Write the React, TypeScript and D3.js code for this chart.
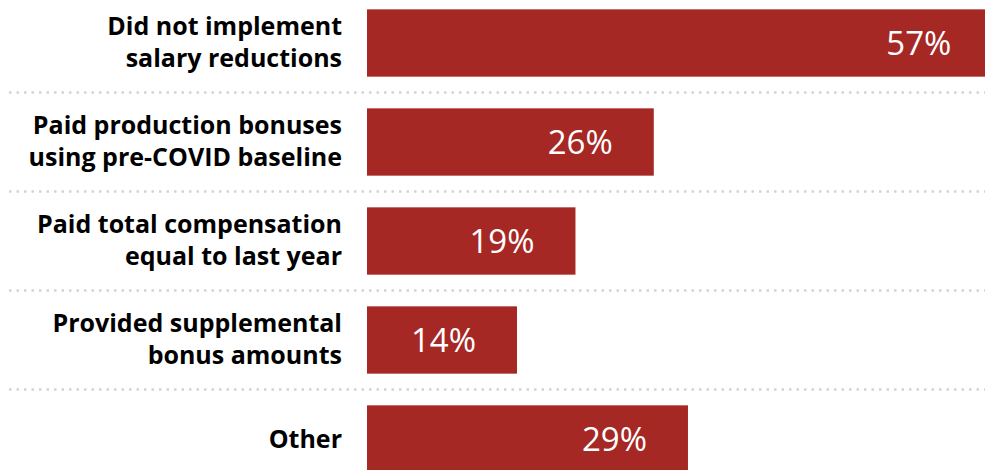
import React from "react";
import * as d3 from "d3";

const categories: string[][] = [
  ["Did not implement", "salary reductions"],
  ["Paid production bonuses", "using pre-COVID baseline"],
  ["Paid total compensation", "equal to last year"],
  ["Provided supplemental", "bonus amounts"],
  ["Other"],
];
const values: number[] = [56.7, 26.0, 18.9, 13.6, 29.1];

const W = 985;
const H = 470;
const BAR_COLOR = "#A62824";

export default function App() {
  const keys = categories.map((c) => c.join(" "));
  const y = d3
    .scaleBand<string>()
    .domain(keys)
    .range([-6.5, 488.5])
    .paddingInner(0.32)
    .paddingOuter(0.16);
  const x = d3.scaleLinear().domain([0, 100]).range([367, 367 + 1103]);
  const bw = y.bandwidth();
  const gap = y.step() - bw;
  const fmt = (v: number) => `${Math.round(v)}%`;

  return (
    <svg
      width={W}
      height={H}
      style={{ position: "absolute", left: 0, top: 0, display: "block" }}
    >
      <rect width={W} height={H} fill="#fff" />
      {keys.slice(0, -1).map((k) => {
        const yy = (y(k) as number) + bw + gap / 2;
        return (
          <line
            key={"sep" + k}
            x1={9}
            x2={W}
            y1={yy}
            y2={yy}
            stroke="#d4d4d4"
            strokeWidth={2.5}
            strokeDasharray="2.5 5"
          />
        );
      })}
      {keys.map((k, i) => {
        const top = y(k) as number;
        const cy = top + bw / 2;
        const lines = categories[i];
        return (
          <g key={k}>
            <rect
              x={x(0)}
              y={top}
              width={x(values[i]) - x(0)}
              height={bw}
              fill={BAR_COLOR}
            />
            <text
              x={x(values[i]) - 41}
              y={cy + 12}
              textAnchor="end"
              fill="#fff"
              fontFamily="'Open Sans', sans-serif"
              fontSize={33}
            >
              {fmt(values[i])}
            </text>
            <text
              textAnchor="end"
              fill="#000"
              fontFamily="'Open Sans', sans-serif"
              fontWeight={700}
              fontSize={25}
            >
              {lines.length === 2 ? (
                <>
                  <tspan x={342} y={cy - 7.8}>
                    {lines[0]}
                  </tspan>
                  <tspan x={342} y={cy + 24}>
                    {lines[1]}
                  </tspan>
                </>
              ) : (
                <tspan x={342} y={cy + 9}>
                  {lines[0]}
                </tspan>
              )}
            </text>
          </g>
        );
      })}
    </svg>
  );
}
